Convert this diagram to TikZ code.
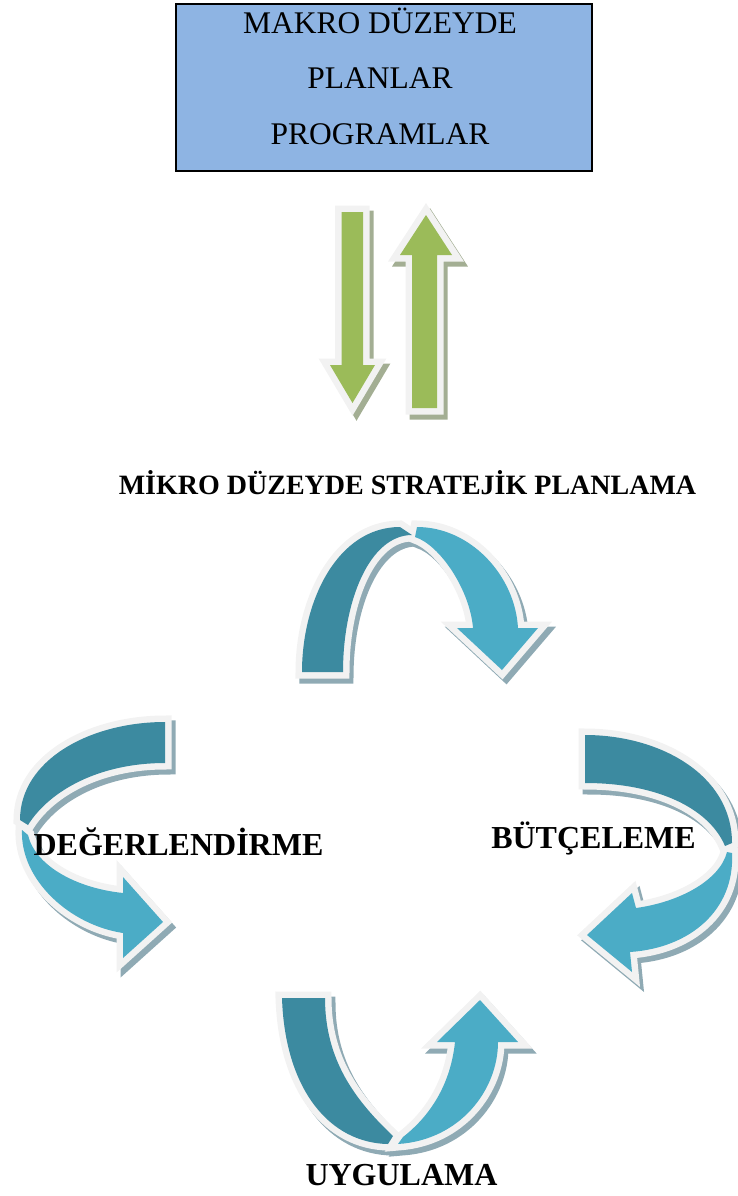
\documentclass[tikz,border=0pt]{standalone}
\usepackage{fontspec}
\setmainfont{Liberation Serif}
\usepackage{tikz}
\usetikzlibrary{positioning}

\definecolor{boxblue}{HTML}{8EB4E3}
\definecolor{leafgreen}{HTML}{9BBB59}
\definecolor{greenshade}{HTML}{A3AE93}
\definecolor{tealdark}{HTML}{3C8AA0}
\definecolor{teallight}{HTML}{4BACC6}
\definecolor{tealshade}{HTML}{8FAAB4}
\definecolor{rimwhite}{HTML}{F2F2F2}

% arrow outlines (pixel units, y pointing down)
\def\greendown{(341.7,212) -- (363,212) -- (363,365) -- (375,365) -- (352.5,403) -- (330,365) -- (341.7,365) -- cycle}
\def\greenup{(412,408) -- (437,408) -- (437,255) -- (452,255) -- (426,215) -- (400,255) -- (412,255) -- cycle}
\def\topdark{(302,672) .. controls (302,600) and (338,527) .. (400,527) -- (412,535) .. controls (370,535) and (343,600) .. (343,672) -- cycle}
\def\toplight{(415,537) -- (417,527) .. controls (470,527) and (515,575) .. (518,628) -- (538,628) -- (502,670) -- (457,628) -- (473,628) .. controls (470,590) and (440,545) .. (415,537) -- cycle}
\def\leftdark{(165,722) .. controls (90,722) and (20,760) .. (20,820) -- (28,825) .. controls (50,790) and (100,763) .. (165,763) -- cycle}
\def\leftlight{(22,830) .. controls (20,880) and (70,925) .. (123,933) -- (123,958) -- (163,922) -- (123,877) -- (123,893) .. controls (75,888) and (35,865) .. (28,835) -- cycle}
\def\rightdark{(585,735) .. controls (660,735) and (732,775) .. (732,843) -- (725,846) .. controls (710,810) and (660,783) .. (585,783) -- cycle}
\def\rightlight{(727,852) -- (732,853) .. controls (735,910) and (690,948) .. (630,952) -- (632,972) -- (587,935) -- (632,893) -- (636,908) .. controls (680,902) and (720,880) .. (727,852) -- cycle}
\def\bottomdark{(282,998) .. controls (285,1090) and (330,1143) .. (388,1144) -- (393,1136) .. controls (355,1100) and (325,1060) .. (325,998) -- cycle}
\def\bottomlight{(398,1144) .. controls (460,1140) and (498,1090) .. (498,1042) -- (518,1042) -- (480,1000) -- (437,1042) -- (455,1042) .. controls (450,1090) and (425,1120) .. (403,1137) -- cycle}

\begin{document}
\begin{tikzpicture}[x=1pt,y=-1pt,
  rimline/.style={draw=rimwhite, line width=13pt, line join=miter, miter limit=3},
  shadowline/.style={line width=13pt, line join=miter, miter limit=3, shift={(4,5)}},
  makrobox/.style={draw=black, line width=2pt, fill=boxblue, minimum width=416pt,
                   minimum height=166pt, inner sep=0pt},
  stage/.style={font=\bfseries\fontsize{32}{38}\selectfont, inner sep=0pt, anchor=base}]
  \useasboundingbox (0,0) rectangle (738,1196);

  % Top box
  \node[makrobox] (makro) at (384,87.5) {};
  \node[font=\fontsize{31.5}{55.5}\selectfont, align=center, inner sep=0pt]
    (makrotext) at (380,76) {MAKRO DÜZEYDE\\PLANLAR\\PROGRAMLAR};

  % Shadows
  \foreach \piece in {\greendown,\greenup}
    \filldraw[shadowline, draw=greenshade, fill=greenshade] \piece;
  \foreach \piece in {\topdark,\toplight,\leftdark,\leftlight,\rightdark,\rightlight,\bottomdark,\bottomlight}
    \filldraw[shadowline, draw=tealshade, fill=tealshade] \piece;

  % White rims
  \foreach \piece in {\greendown,\greenup,\topdark,\toplight,\leftdark,\leftlight,\rightdark,\rightlight,\bottomdark,\bottomlight}
    \draw[rimline] \piece;

  % Arrow bodies
  \fill[leafgreen] \greendown;
  \fill[leafgreen] \greenup;
  \foreach \piece in {\topdark,\leftdark,\rightdark,\bottomdark}
    \fill[tealdark] \piece;
  \foreach \piece in {\toplight,\leftlight,\rightlight,\bottomlight}
    \fill[teallight] \piece;

  % Labels
  \node[stage, font=\bfseries\fontsize{28}{34}\selectfont] (mikro) at (407.5,494)
    {MİKRO DÜZEYDE STRATEJİK PLANLAMA};
  \node[stage] (deger) at (178.5,855) {DEĞERLENDİRME};
  \node[stage] (butce) at (593.5,848) {BÜTÇELEME};
  \node[stage] (uygula) at (401.5,1185) {UYGULAMA};
\end{tikzpicture}
\end{document}
